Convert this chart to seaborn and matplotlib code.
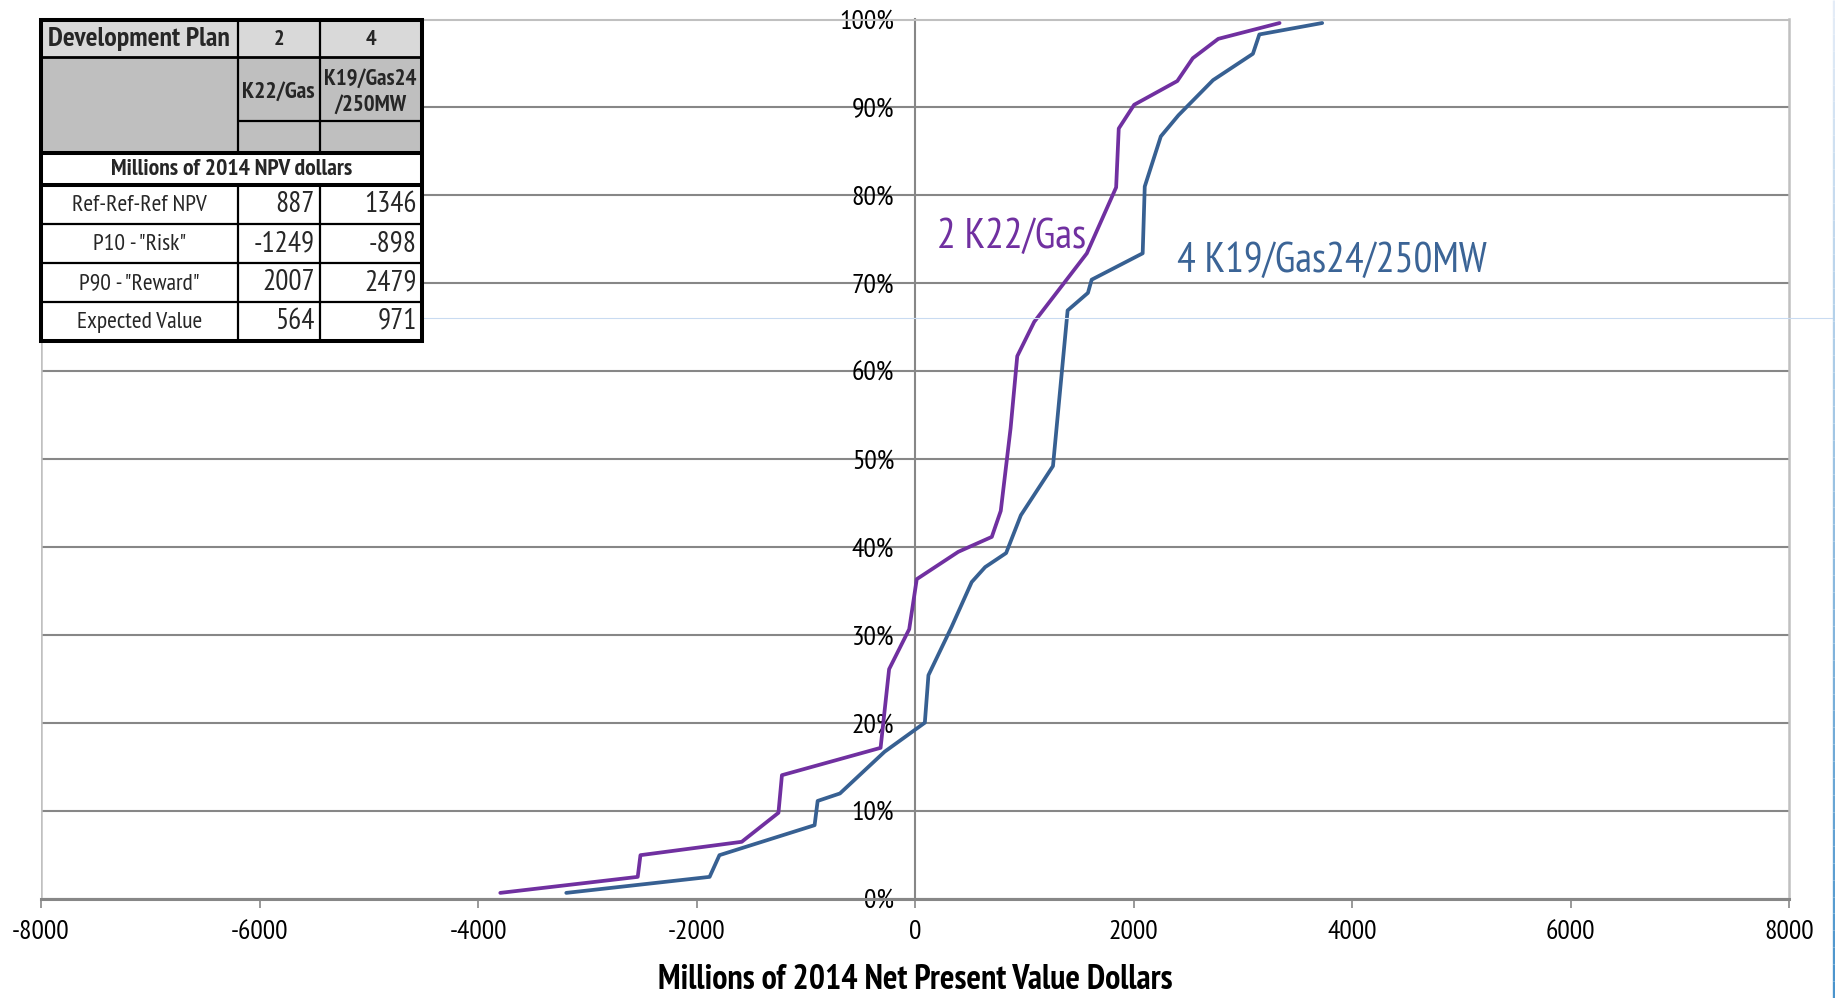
import matplotlib
matplotlib.use("Agg")
import matplotlib.pyplot as plt
from matplotlib import font_manager
from matplotlib.ticker import PercentFormatter, MultipleLocator
from matplotlib.collections import LineCollection
from matplotlib.patches import Rectangle
import numpy as np
import pandas as pd
import seaborn as sns

# ---- cumulative NPV distributions (millions of 2014 dollars, cumulative %) ----
plan2_name = "2 K22/Gas"
plan2_npv = [-3796, -2538, -2513, -1586, -1250, -1218, -315, -237, -53, 16,
             396, 703, 785, 875, 936, 1091, 1573, 1841, 1865, 2006,
             2401, 2543, 2776, 3337]
plan2_cum = [0.64, 2.46, 4.93, 6.45, 9.75, 14.03, 17.14, 26.09, 30.64, 36.33,
             39.44, 41.14, 44.10, 53.5, 61.7, 65.6, 73.4, 80.9, 87.6, 90.3,
             93.0, 95.6, 97.8, 99.6]

plan4_name = "4 K19/Gas24/250MW"
plan4_npv = [-3192, -1880, -1790, -919, -891, -687, -278, 90, 123, 335,
             519, 642, 834, 969, 1263, 1397, 1583, 1617, 2084, 2103,
             2250, 2411, 2728, 3093, 3152, 3727]
plan4_cum = [0.64, 2.46, 4.93, 8.34, 11.1, 11.95, 16.7, 20.0, 25.4, 30.9,
             36.0, 37.7, 39.3, 43.6, 49.2, 66.9, 68.9, 70.4, 73.4, 81.0,
             86.7, 89.1, 93.1, 96.1, 98.3, 99.6]

x_ticks = [-8000, -6000, -4000, -2000, 0, 2000, 4000, 6000, 8000]
x_title = "Millions of 2014 Net Present Value Dollars"

# ---- summary table ----
table_header = ["Development Plan", "2", "4"]
plan_labels = ["K22/Gas", "K19/Gas24\n/250MW"]
units_row = "Millions of 2014 NPV dollars"
metric_names = ["Ref-Ref-Ref NPV", 'P10 - "Risk"', 'P90 - "Reward"', "Expected Value"]
plan2_metrics = [887, -1249, 2007, 564]
plan4_metrics = [1346, -898, 2479, 971]

purple = "#7030A0"
blue = "#376092"
grid_gray = "#878787"
border_gray = "#C0C0C0"

sns.set_theme(style="white")
installed = {f.name for f in font_manager.fontManager.ttflist}
narrow = next((n for n in ["PT Sans Narrow", "Archivo Narrow", "Open Sans Condensed",
                           "IBM Plex Sans Condensed", "Liberation Sans"] if n in installed), "DejaVu Sans")
plt.rcParams["font.family"] = [narrow, "DejaVu Sans"]
plt.rcParams["axes.unicode_minus"] = False

W, H = 1835, 998
fig = plt.figure(figsize=(W / 100, H / 100), dpi=100)
fig.patch.set_facecolor("white")

ax_l, ax_r, ax_t, ax_b = 41, 1789, 19.5, 898.5
ax = fig.add_axes([ax_l / W, 1 - ax_b / H, (ax_r - ax_l) / W, (ax_b - ax_t) / H])

df = pd.concat([
    pd.DataFrame({"npv": plan2_npv, "cum": plan2_cum, "plan": plan2_name}),
    pd.DataFrame({"npv": plan4_npv, "cum": plan4_cum, "plan": plan4_name}),
])
sns.lineplot(data=df, x="npv", y="cum", hue="plan", sort=False, estimator=None,
             palette={plan2_name: purple, plan4_name: blue}, linewidth=2.7,
             legend=False, ax=ax, zorder=5)

ax.set_xlim(-8000, 8000)
ax.set_ylim(0, 100)
ax.set_xticks(x_ticks)
ax.yaxis.set_major_locator(MultipleLocator(10))
ax.yaxis.set_major_formatter(PercentFormatter(100, decimals=0))
ax.grid(axis="y", color=grid_gray, linewidth=1.5)
ax.grid(axis="x", visible=False)
ax.set_axisbelow(True)

# y axis sits on NPV = 0
ax.spines["left"].set_position(("data", 0))
ax.spines["left"].set_color(grid_gray)
ax.spines["left"].set_linewidth(1.5)
ax.spines["bottom"].set_color(grid_gray)
ax.spines["bottom"].set_linewidth(2.2)
ax.spines["top"].set_color(border_gray)
ax.spines["top"].set_linewidth(1.5)
ax.spines["right"].set_color(border_gray)
ax.spines["right"].set_linewidth(1.8)
ax.axvline(-8000, color=border_gray, linewidth=1.8, zorder=1)

ax.tick_params(axis="y", length=0, pad=15, labelsize=20, colors="black")
ax.tick_params(axis="x", direction="out", length=6.5, width=1.2, color=grid_gray,
               pad=9, labelsize=20, labelcolor="black", bottom=True)

ax.set_xlabel(x_title, fontsize=24.5, fontweight="bold", color="black")
ax.set_ylabel("")
ax.xaxis.set_label_coords(0.5, (ax_b - 980) / (ax_b - ax_t))
ax.xaxis.label.set_va("center")

ax.text(200, 75.2, plan2_name, color=purple, fontsize=30, ha="left", va="center")
ax.text(2398, 72.5, plan4_name, color="#3B6496", fontsize=30, ha="left", va="center")

# ---- overlay for the summary table and sheet decorations ----
ov = fig.add_axes([0, 0, 1, 1], zorder=10)
ov.set_xlim(0, W)
ov.set_ylim(H, 0)
ov.axis("off")
ov.patch.set_alpha(0)

# faint selection line and sheet edge
ov.plot([422, 1832], [318.3, 318.3], color="#C9DBF1", linewidth=0.8, zorder=1)
ys = np.linspace(0, H, 60)
segs = [[(1833.5, ys[i]), (1833.5, ys[i + 1])] for i in range(len(ys) - 1)]
cmap = matplotlib.colors.LinearSegmentedColormap.from_list("edge", ["#E4ECF7", "#4A94CC"])
ov.add_collection(LineCollection(segs, colors=[cmap(i / (len(segs) - 1)) for i in range(len(segs))],
                                 linewidths=2.4, zorder=1))

x0, x1, x2, x3 = 41, 237.5, 319.5, 421.5
rows = [19.5, 56.7, 120.7, 153.3, 185, 224, 263.3, 301.7, 340.7]

ov.add_patch(Rectangle((x0, rows[0]), x3 - x0, rows[-1] - rows[0], facecolor="white", edgecolor="none", zorder=2))
ov.add_patch(Rectangle((x0, rows[0]), x3 - x0, rows[1] - rows[0], facecolor="#D9D9D9", edgecolor="none", zorder=2))
ov.add_patch(Rectangle((x0, rows[1]), x3 - x0, rows[3] - rows[1], facecolor="#BFBFBF", edgecolor="none", zorder=2))

thin, thick = 1.6, 2.9
for y, lw, xa in [(rows[1], 2.0, x0), (rows[2], thin, x1), (rows[3], thick, x0), (rows[4], thick, x0),
                  (rows[5], thin, x0), (rows[6], thin, x0), (rows[7], thin, x0)]:
    ov.plot([xa, x3], [y, y], color="black", linewidth=lw, zorder=3, solid_capstyle="butt")
for xv in (x1, x2):
    ov.plot([xv, xv], [rows[0], rows[3]], color="black", linewidth=thin, zorder=3, solid_capstyle="butt")
    ov.plot([xv, xv], [rows[4], rows[-1]], color="black", linewidth=thin, zorder=3, solid_capstyle="butt")
ov.add_patch(Rectangle((x0, rows[0]), x3 - x0, rows[-1] - rows[0], facecolor="none",
                       edgecolor="black", linewidth=thick, zorder=4))

ov.text((x0 + x1) / 2, 39, table_header[0], fontsize=20, fontweight="bold", ha="center", va="center", zorder=5)
ov.text((x1 + x2) / 2, 39, table_header[1], fontsize=16, fontweight="bold", ha="center", va="center", zorder=5)
ov.text((x2 + x3) / 2, 39, table_header[2], fontsize=16, fontweight="bold", ha="center", va="center", zorder=5)
ov.text((x1 + x2) / 2, 92, plan_labels[0], fontsize=17, fontweight="bold", ha="center", va="center", zorder=5)
ov.text((x2 + x3) / 2, 92, plan_labels[1], fontsize=16.5, fontweight="bold", ha="center", va="center",
        linespacing=1.3, zorder=5)
ov.text((x0 + x3) / 2, 169.5, units_row, fontsize=17, fontweight="bold", ha="center", va="center", zorder=5)

row_centres = [(rows[i] + rows[i + 1]) / 2 for i in range(4, 8)]
for yc, name, v2, v4 in zip(row_centres, metric_names, plan2_metrics, plan4_metrics):
    ov.text((x0 + x1) / 2, yc + 1, name, fontsize=17, ha="center", va="center", zorder=5)
    ov.text(x2 - 5, yc, f"{v2}", fontsize=21, ha="right", va="center", zorder=5)
    ov.text(x3 - 5, yc, f"{v4}", fontsize=21, ha="right", va="center", zorder=5)

fig.savefig("out.png", dpi=100)
